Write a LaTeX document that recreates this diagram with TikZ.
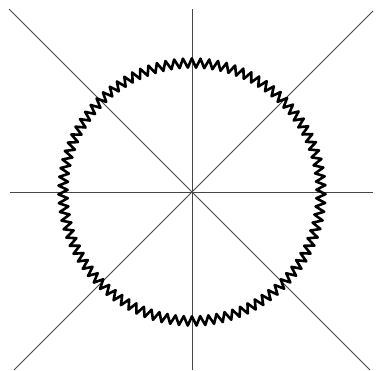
\documentclass[tikz,border=0pt]{standalone}
\usetikzlibrary{decorations.pathmorphing}
\begin{document}
\begin{tikzpicture}[x=1pt,y=-1pt,
  axisline/.style={draw=black!72,line width=1pt},
  springring/.style={draw=black,line width=2.6pt,line join=round,
    decorate,decoration={zigzag,segment length=8.53pt,amplitude=4.6pt}}]
\useasboundingbox[fill=white] (0,0) rectangle (378,370);
\coordinate (c) at (192,192);
\coordinate (hl) at (10,192);
\coordinate (hr) at (373,192);
\coordinate (vt) at (192,9);
\coordinate (vb) at (192,370);
\coordinate (d1a) at (9,9);
\coordinate (d1b) at (370,370);
\coordinate (d2a) at (373,11);
\coordinate (d2b) at (14,370);
\draw[axisline] (hl) -- (hr);
\draw[axisline] (vt) -- (vb);
\draw[axisline] (d1a) -- (d1b);
\draw[axisline] (d2a) -- (d2b);
\draw[springring] (c) circle[radius=129];
\end{tikzpicture}
\end{document}
